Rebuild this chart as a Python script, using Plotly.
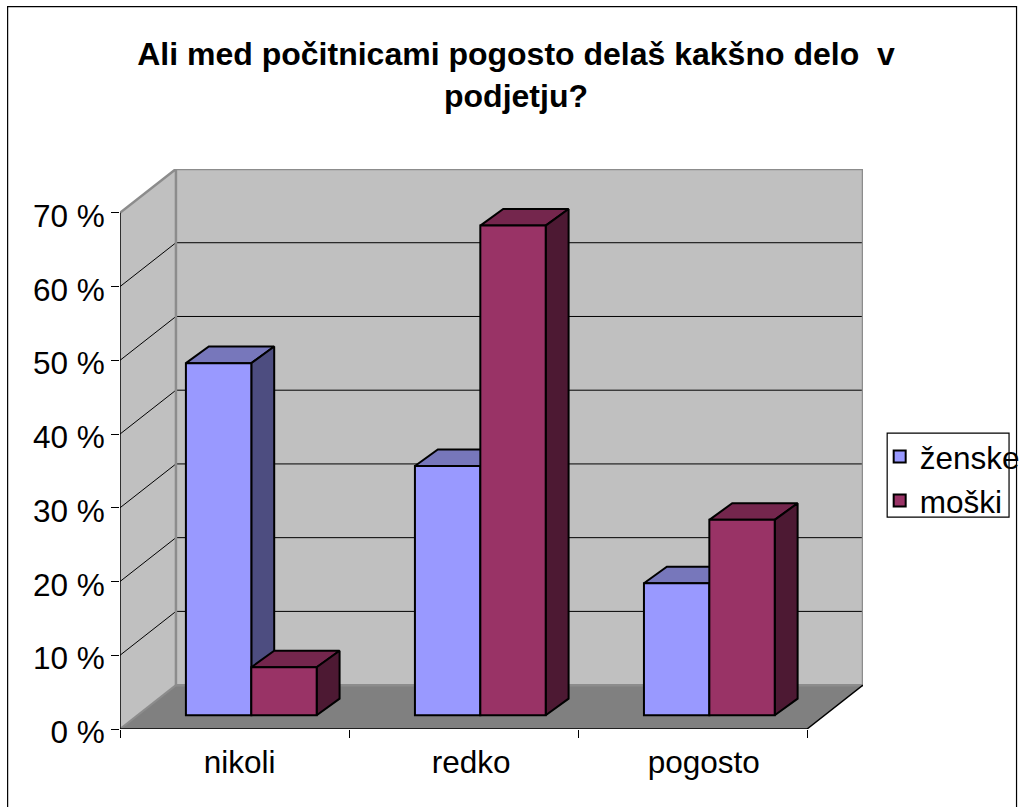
import plotly.graph_objects as go

categories = ["nikoli", "redko", "pogosto"]
zenske = [47.75, 33.8, 17.9]
moski = [6.5, 66.4, 26.5]
y_ticks = [0, 10, 20, 30, 40, 50, 60, 70]
y_tick_labels = ["0 %", "10 %", "20 %", "30 %", "40 %", "50 %", "60 %", "70 %"]
category_edges = [0, 1, 2, 3]
label_positions = [0.522, 1.533, 2.549]
title_text = "Ali med počitnicami pogosto delaš kakšno delo \u00a0v<br>podjetju?"

W, H = 1021, 807
L, R, T, B = 119.5, 863.3, 169.4, 729.5
X_MAX, Y_MAX = 3, 70
DX = X_MAX * 56 / (807.3 - 119.5)
DY = Y_MAX * 43.9 / (729.5 - 213)
BAR_W = 0.2855
SHIFT_X = 0.0733
BASE_Y = 1.87
BAR_DX = 0.1
BAR_DY = 2.25


def px(v):
    return (v - L) / (R - L)


def py(v):
    return (B - v) / (B - T)


fig = go.Figure()


def poly(xs, ys, fill=None, line="rgba(0,0,0,0)", width=1, z=0):
    fig.add_trace(go.Scatter(
        x=xs, y=ys, mode="lines", fill="toself" if fill else "none",
        fillcolor=fill, line=dict(color=line, width=width), zorder=z,
        showlegend=False, hoverinfo="skip", cliponaxis=False,
    ))


# side wall, back wall, floor
poly([0, DX, DX, 0, 0], [0, DY, Y_MAX + DY, Y_MAX, 0], fill="#C0C0C0")
poly([DX, X_MAX + DX, X_MAX + DX, DX, DX], [DY, DY, Y_MAX + DY, Y_MAX + DY, DY], fill="#C0C0C0")
poly([0, X_MAX, X_MAX + DX, DX, 0], [0, 0, DY, DY, 0], fill="#808080")

# grid lines
gx, gy = [], []
for v in y_ticks[1:-1]:
    gx += [0, DX, X_MAX + DX, None]
    gy += [v, v + DY, v + DY, None]
poly(gx, gy, line="#000000", width=1)

# grey wall edges
poly([0, DX, X_MAX + DX, X_MAX + DX, DX, DX], [Y_MAX, Y_MAX + DY, Y_MAX + DY, DY, DY, Y_MAX + DY],
     line="#8C8C8C", width=2.5)
poly([0, DX], [0, DY], line="#8C8C8C", width=2)

# front axis lines
poly([0, 0, X_MAX, X_MAX + DX], [Y_MAX, 0, 0, DY], line="#000000", width=1.5)


def bars(name, values, offset, front, top, side, z):
    for i, v in enumerate(values):
        x0 = i + 0.5 + SHIFT_X + offset
        x1 = x0 + BAR_W
        y0 = BASE_Y
        y1 = BASE_Y + v
        poly([x0, x1, x1 + BAR_DX, x0 + BAR_DX, x0], [y1, y1, y1 + BAR_DY, y1 + BAR_DY, y1],
             fill=top, line="#000000", width=2, z=z)
        poly([x1, x1 + BAR_DX, x1 + BAR_DX, x1, x1], [y0, y0 + BAR_DY, y1 + BAR_DY, y1, y0],
             fill=side, line="#000000", width=2, z=z)
    fig.add_trace(go.Bar(
        x=[i + 0.5 + SHIFT_X for i in range(len(values))], y=values, base=BASE_Y,
        offset=offset, width=BAR_W, name=name, zorder=z + 1,
        marker=dict(color=front, line=dict(color="#000000", width=2)),
        hoverinfo="skip", cliponaxis=False,
    ))


bars("ženske", zenske, -BAR_W, "#9999FF", "#7777BB", "#4D4D80", 1)
bars("moški", moski, 0, "#993366", "#74264D", "#4D1933", 3)

fig.update_layout(
    width=W, height=H, autosize=False,
    margin=dict(l=L, r=W - R, t=T, b=H - B, pad=0, autoexpand=False),
    paper_bgcolor="#FFFFFF", plot_bgcolor="rgba(0,0,0,0)",
    barmode="overlay",
    font=dict(family="Liberation Sans", size=31.5, color="#000000"),
    title=dict(text=title_text, x=516 / W, xanchor="center", y=1 - 65 / H, yanchor="top",
               font=dict(family="Liberation Sans", size=32, color="#000000", weight="bold")),
    xaxis=dict(
        range=[0, X_MAX + DX], showgrid=False, zeroline=False, showline=False,
        tickmode="array", tickvals=label_positions, ticktext=categories, ticks="",
        ticklabelstandoff=11,
        minor=dict(tickmode="array", tickvals=category_edges, ticks="outside", ticklen=8,
                   tickwidth=1, tickcolor="#000000", showgrid=False),
    ),
    yaxis=dict(
        range=[0, Y_MAX + DY], showgrid=False, zeroline=False, showline=False,
        tickmode="array", tickvals=y_ticks, ticktext=y_tick_labels, ticks="outside",
        ticklen=8, tickwidth=1, tickcolor="#000000", ticklabelstandoff=0, ticklabelshift=3,
    ),
    legend=dict(x=px(880), y=py(430), xanchor="left", yanchor="top",
                bgcolor="rgba(0,0,0,0)", borderwidth=0, font=dict(size=31.5),
                itemclick=False, itemdoubleclick=False),
    shapes=[
        dict(type="rect", xref="paper", yref="paper", x0=px(887.5), x1=px(1009.5),
             y0=py(433.5), y1=py(517.5), line=dict(color="#000000", width=1.2)),
        dict(type="rect", xref="paper", yref="paper", x0=px(7), x1=px(1017),
             y0=py(7), y1=py(830), line=dict(color="#000000", width=1.2)),
    ],
)

fig.write_html("out.html", config=dict(displayModeBar=False),
               post_script="document.body.style.margin='0';document.body.style.overflow='hidden';")
